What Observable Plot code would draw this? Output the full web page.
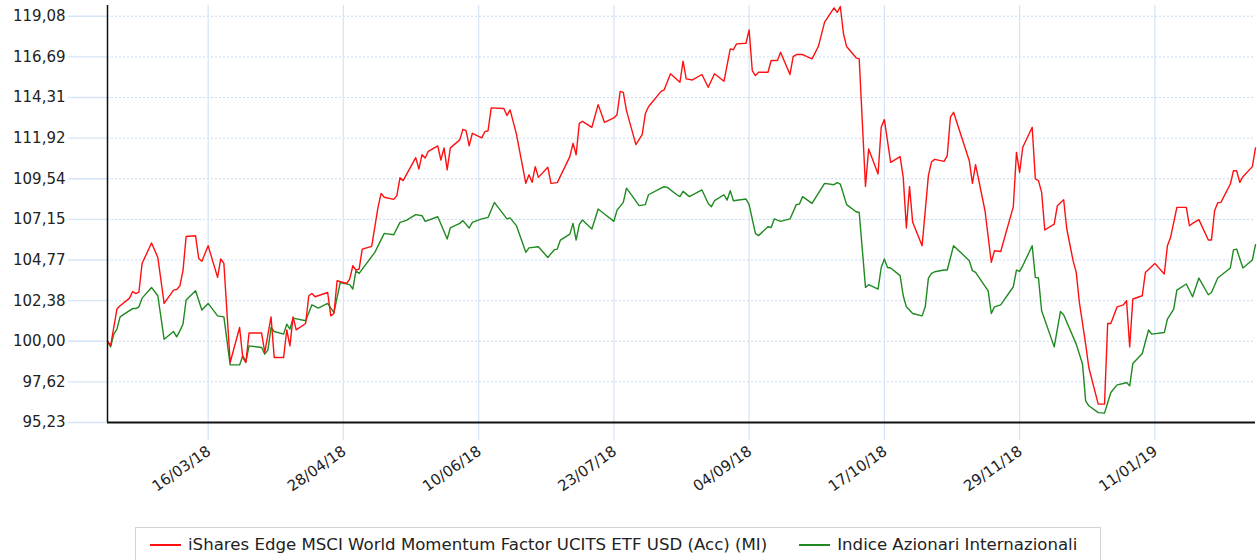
<!DOCTYPE html>
<html><head><meta charset="utf-8">
<script src="https://cdn.jsdelivr.net/npm/d3@7"></script>
<script src="https://cdn.jsdelivr.net/npm/@observablehq/plot@0.6"></script>
<style>
body{margin:0;background:#fff;font-family:"DejaVu Sans",Verdana,sans-serif;}
#wrap{position:relative;width:1257px;height:560px;overflow:hidden;background:#fff;}
#chart{position:absolute;left:0;top:0;}
#legend{position:absolute;left:135px;top:527px;width:966px;height:44px;border:1px solid #d4d4d4;box-sizing:border-box;display:flex;align-items:flex-start;padding:6px 0 0 14px;font-size:16.6px;color:#222;}
.item{display:flex;align-items:center;line-height:22px;white-space:nowrap;}
.sw{display:inline-block;width:31px;height:2px;margin-right:7px;}
</style></head><body><div id="wrap"><div id="chart"></div><div id="legend"></div></div>
<script>
const seriesNames = ["iShares Edge MSCI World Momentum Factor UCITS ETF USD (Acc) (MI)", "Indice Azionari Internazionali"];
const seriesColors = ["#ff1010", "#1f8a1f"];
const xDomain = ["2018-02-12", "2019-02-12"];
const yDomain = [95.23, 119.71];
const yTicks = [95.23, 97.62, 100.00, 102.38, 104.77, 107.15, 109.54, 111.92, 114.31, 116.69, 119.08];
const xTicks = ["2018-03-16", "2018-04-28", "2018-06-10", "2018-07-23", "2018-09-04", "2018-10-17", "2018-11-29", "2019-01-11"];

const redDates = ["2018-02-12","2018-02-13","2018-02-15","2018-02-16","2018-02-19","2018-02-20","2018-02-21","2018-02-22","2018-02-23","2018-02-26","2018-02-28","2018-03-02","2018-03-05","2018-03-06","2018-03-07","2018-03-08","2018-03-09","2018-03-12","2018-03-13","2018-03-14","2018-03-16","2018-03-19","2018-03-20","2018-03-21","2018-03-23","2018-03-26","2018-03-27","2018-03-28","2018-03-29","2018-04-02","2018-04-03","2018-04-05","2018-04-06","2018-04-09","2018-04-10","2018-04-11","2018-04-12","2018-04-13","2018-04-16","2018-04-17","2018-04-18","2018-04-19","2018-04-23","2018-04-24","2018-04-25","2018-04-26","2018-04-29","2018-04-30","2018-05-01","2018-05-02","2018-05-03","2018-05-04","2018-05-07","2018-05-09","2018-05-10","2018-05-11","2018-05-14","2018-05-15","2018-05-16","2018-05-17","2018-05-21","2018-05-22","2018-05-23","2018-05-24","2018-05-25","2018-05-28","2018-05-29","2018-05-30","2018-05-31","2018-06-01","2018-06-04","2018-06-05","2018-06-06","2018-06-07","2018-06-08","2018-06-11","2018-06-12","2018-06-13","2018-06-14","2018-06-18","2018-06-19","2018-06-20","2018-06-22","2018-06-25","2018-06-26","2018-06-27","2018-06-28","2018-06-29","2018-07-02","2018-07-03","2018-07-05","2018-07-09","2018-07-10","2018-07-11","2018-07-12","2018-07-13","2018-07-16","2018-07-18","2018-07-20","2018-07-23","2018-07-24","2018-07-25","2018-07-26","2018-07-27","2018-07-30","2018-08-01","2018-08-02","2018-08-03","2018-08-07","2018-08-08","2018-08-10","2018-08-13","2018-08-14","2018-08-15","2018-08-17","2018-08-20","2018-08-22","2018-08-24","2018-08-27","2018-08-29","2018-08-30","2018-08-31","2018-09-03","2018-09-04","2018-09-05","2018-09-06","2018-09-07","2018-09-10","2018-09-11","2018-09-13","2018-09-14","2018-09-15","2018-09-17","2018-09-18","2018-09-19","2018-09-21","2018-09-24","2018-09-26","2018-09-28","2018-10-01","2018-10-02","2018-10-03","2018-10-04","2018-10-05","2018-10-08","2018-10-09","2018-10-11","2018-10-12","2018-10-15","2018-10-16","2018-10-17","2018-10-19","2018-10-22","2018-10-23","2018-10-24","2018-10-25","2018-10-26","2018-10-29","2018-10-31","2018-11-01","2018-11-02","2018-11-05","2018-11-06","2018-11-07","2018-11-08","2018-11-13","2018-11-14","2018-11-15","2018-11-18","2018-11-20","2018-11-21","2018-11-23","2018-11-27","2018-11-28","2018-11-29","2018-11-30","2018-12-03","2018-12-04","2018-12-05","2018-12-06","2018-12-07","2018-12-10","2018-12-11","2018-12-13","2018-12-14","2018-12-16","2018-12-17","2018-12-18","2018-12-20","2018-12-21","2018-12-24","2018-12-26","2018-12-27","2018-12-28","2018-12-30","2019-01-01","2019-01-02","2019-01-03","2019-01-04","2019-01-07","2019-01-08","2019-01-11","2019-01-14","2019-01-15","2019-01-16","2019-01-18","2019-01-21","2019-01-22","2019-01-23","2019-01-25","2019-01-28","2019-01-29","2019-01-30","2019-01-31","2019-02-01","2019-02-04","2019-02-05","2019-02-06","2019-02-07","2019-02-08","2019-02-11","2019-02-12"];
const redValues = [100.00,99.75,101.89,102.08,102.53,102.92,102.80,102.89,104.57,105.77,104.92,102.22,103.00,103.04,103.24,104.14,106.15,106.19,104.86,104.69,105.61,103.75,104.83,104.57,98.75,100.81,99.05,98.75,100.48,100.48,99.34,101.43,99.05,99.05,100.66,99.73,101.43,100.67,101.04,102.67,102.80,102.61,102.86,101.49,101.63,103.55,103.39,103.65,104.43,104.18,104.24,105.41,105.57,107.86,108.68,108.45,108.33,108.55,109.60,109.43,110.78,110.11,110.95,110.76,111.15,111.47,110.64,111.35,110.06,111.35,111.82,112.44,112.36,111.47,112.21,111.94,112.31,112.36,113.70,113.66,113.25,113.58,112.17,109.27,109.78,109.33,110.25,109.62,110.21,109.27,109.31,110.84,111.62,110.95,112.79,112.91,112.56,113.89,112.85,113.11,113.30,114.67,114.61,113.54,111.54,112.13,113.35,113.77,114.67,114.76,115.70,115.20,116.44,115.40,115.34,115.66,114.91,115.70,115.26,117.16,117.11,117.46,117.49,118.28,115.89,115.60,115.79,115.79,116.48,116.48,116.96,116.52,115.66,116.71,116.83,116.83,116.58,117.30,118.73,119.57,119.31,119.65,118.05,117.30,116.64,116.58,109.09,111.29,109.82,112.56,113.01,110.50,110.84,109.62,106.65,109.08,106.98,105.61,109.72,110.54,110.68,110.56,110.90,113.15,113.44,110.60,109.27,110.37,107.66,104.63,105.31,105.27,107.90,111.09,109.91,111.39,112.56,109.53,109.43,108.74,106.53,106.88,107.96,108.31,106.59,104.73,104.04,102.28,99.83,98.46,96.31,96.31,101.04,101.04,102.02,102.14,102.38,99.67,102.48,102.67,104.04,104.57,103.95,105.61,106.10,107.86,107.86,106.78,106.92,107.14,105.94,105.94,107.66,108.13,108.15,109.23,110.01,110.01,109.33,109.66,110.25,111.35];

const greenDates = ["2018-02-12","2018-02-13","2018-02-14","2018-02-15","2018-02-16","2018-02-18","2018-02-20","2018-02-21","2018-02-22","2018-02-23","2018-02-26","2018-02-28","2018-03-02","2018-03-05","2018-03-06","2018-03-07","2018-03-08","2018-03-09","2018-03-12","2018-03-14","2018-03-16","2018-03-19","2018-03-21","2018-03-23","2018-03-26","2018-03-27","2018-03-28","2018-03-29","2018-04-02","2018-04-03","2018-04-04","2018-04-05","2018-04-06","2018-04-09","2018-04-10","2018-04-11","2018-04-12","2018-04-16","2018-04-18","2018-04-20","2018-04-23","2018-04-25","2018-04-27","2018-04-30","2018-05-01","2018-05-02","2018-05-03","2018-05-08","2018-05-11","2018-05-14","2018-05-16","2018-05-18","2018-05-21","2018-05-23","2018-05-24","2018-05-28","2018-05-29","2018-05-31","2018-06-01","2018-06-04","2018-06-05","2018-06-07","2018-06-08","2018-06-11","2018-06-13","2018-06-15","2018-06-19","2018-06-20","2018-06-22","2018-06-25","2018-06-26","2018-06-29","2018-07-02","2018-07-04","2018-07-05","2018-07-06","2018-07-09","2018-07-10","2018-07-11","2018-07-12","2018-07-13","2018-07-16","2018-07-18","2018-07-20","2018-07-23","2018-07-24","2018-07-26","2018-07-27","2018-07-29","2018-07-31","2018-08-02","2018-08-03","2018-08-07","2018-08-08","2018-08-09","2018-08-12","2018-08-13","2018-08-14","2018-08-16","2018-08-20","2018-08-22","2018-08-23","2018-08-24","2018-08-27","2018-08-28","2018-08-29","2018-08-30","2018-09-03","2018-09-04","2018-09-06","2018-09-07","2018-09-10","2018-09-11","2018-09-12","2018-09-14","2018-09-17","2018-09-19","2018-09-20","2018-09-21","2018-09-24","2018-09-28","2018-10-01","2018-10-02","2018-10-03","2018-10-05","2018-10-08","2018-10-09","2018-10-11","2018-10-12","2018-10-15","2018-10-16","2018-10-17","2018-10-18","2018-10-19","2018-10-22","2018-10-23","2018-10-24","2018-10-26","2018-10-29","2018-10-30","2018-10-31","2018-11-01","2018-11-02","2018-11-05","2018-11-06","2018-11-08","2018-11-13","2018-11-14","2018-11-15","2018-11-19","2018-11-20","2018-11-21","2018-11-23","2018-11-27","2018-11-28","2018-11-29","2018-11-30","2018-12-03","2018-12-04","2018-12-05","2018-12-06","2018-12-10","2018-12-12","2018-12-13","2018-12-17","2018-12-19","2018-12-20","2018-12-21","2018-12-24","2018-12-26","2018-12-28","2018-12-30","2019-01-01","2019-01-02","2019-01-03","2019-01-04","2019-01-07","2019-01-09","2019-01-10","2019-01-14","2019-01-15","2019-01-17","2019-01-18","2019-01-21","2019-01-23","2019-01-25","2019-01-28","2019-01-29","2019-01-31","2019-02-04","2019-02-05","2019-02-06","2019-02-08","2019-02-11","2019-02-12"];
const greenValues = [100.00,99.67,100.42,100.71,101.43,101.68,101.92,101.92,102.02,102.53,103.16,102.67,100.12,100.57,100.26,100.61,101.00,102.42,102.96,101.83,102.22,101.49,101.43,98.61,98.61,99.14,98.81,99.73,99.63,99.24,99.48,100.81,100.57,100.42,101.00,100.71,101.36,101.20,102.14,101.95,102.22,101.68,103.45,103.32,103.06,104.14,103.98,105.22,106.33,106.25,106.98,107.10,107.43,107.37,107.04,107.31,106.88,106.00,106.65,106.92,107.08,106.65,106.98,107.18,107.27,108.15,107.18,107.24,106.79,105.22,105.48,105.55,104.92,105.36,105.41,105.94,106.29,106.92,105.94,106.84,107.12,106.59,107.76,107.47,107.04,107.70,108.15,108.99,108.49,107.96,108.02,108.60,108.99,109.07,109.03,108.60,108.49,108.80,108.49,108.88,108.09,107.90,108.25,108.60,108.29,108.84,108.25,108.35,108.02,106.33,106.20,106.72,106.68,107.18,107.04,107.18,108.02,108.06,108.49,108.09,109.27,109.19,109.31,109.23,108.02,107.60,107.56,103.16,103.32,103.06,104.33,104.83,104.33,104.30,103.85,102.67,102.02,101.63,101.49,102.02,103.71,103.98,104.08,104.18,104.18,105.61,104.73,104.14,104.04,102.96,101.63,102.02,102.14,103.20,104.18,104.10,104.43,105.61,103.75,103.71,101.79,99.67,101.75,101.55,99.83,98.66,96.50,96.21,95.81,95.78,96.99,97.44,97.52,97.58,97.38,98.69,99.28,100.66,100.42,100.51,101.30,101.89,103.00,103.36,102.61,103.71,102.73,102.86,103.71,104.30,105.36,105.41,104.30,104.77,105.67];

const parse = d3.utcParse("%Y-%m-%d");
const redData = redDates.map((d, i) => ({date: parse(d), value: redValues[i]}));
const greenData = greenDates.map((d, i) => ({date: parse(d), value: greenValues[i]}));
const xTickDates = xTicks.map(parse);
const fmtY = v => v.toFixed(2).replace(".", ",");
const fmtX = d3.utcFormat("%d/%m/%y");
const gridColor = "#d6e5f7";

const chart = Plot.plot({
  width: 1257, height: 520,
  marginLeft: 107, marginRight: 2, marginTop: 5, marginBottom: 98,
  style: {fontFamily: "'DejaVu Sans', Verdana, sans-serif", fontSize: "15px", color: "#222", background: "#fff", overflow: "visible"},
  x: {type: "utc", domain: xDomain.map(parse)},
  y: {domain: yDomain},
  marks: [
    Plot.gridY(yTicks, {stroke: "#c5daf2", strokeOpacity: 1, strokeDasharray: "2,2"}),
    Plot.ruleX(xTickDates, {stroke: gridColor, strokeWidth: 1.3}),
    Plot.axisX(xTickDates, {tickSize: 18, stroke: gridColor, strokeWidth: 1.3, fill: "none", tickFormat: fmtX, label: null}),
    Plot.text(xTickDates, {x: d => d, frameAnchor: "bottom", text: d => fmtX(d), rotate: -35, textAnchor: "end", lineAnchor: "middle", dy: 27, dx: 1, fill: "#222", fontSize: 15}),
    Plot.axisY(yTicks, {tickSize: 39, tickPadding: 3, stroke: gridColor, strokeWidth: 1.3, fill: "#222", tickFormat: fmtY, label: null}),
    Plot.line(greenData, {x: "date", y: "value", stroke: seriesColors[1], strokeWidth: 1.4}),
    Plot.line(redData, {x: "date", y: "value", stroke: seriesColors[0], strokeWidth: 1.4}),
    Plot.ruleY([yDomain[0]], {stroke: "#111", strokeWidth: 2}),
    Plot.ruleX([parse(xDomain[0])], {stroke: "#111", strokeWidth: 1.5})
  ]
});
document.getElementById("chart").appendChild(chart);

const legend = document.getElementById("legend");
seriesNames.forEach((name, i) => {
  const item = document.createElement("div");
  item.className = "item";
  if (i > 0) item.style.marginLeft = "32px";
  const sw = document.createElement("span");
  sw.className = "sw";
  sw.style.background = seriesColors[i];
  const tx = document.createElement("span");
  tx.textContent = name;
  item.appendChild(sw);
  item.appendChild(tx);
  legend.appendChild(item);
});
</script>
</body></html>
